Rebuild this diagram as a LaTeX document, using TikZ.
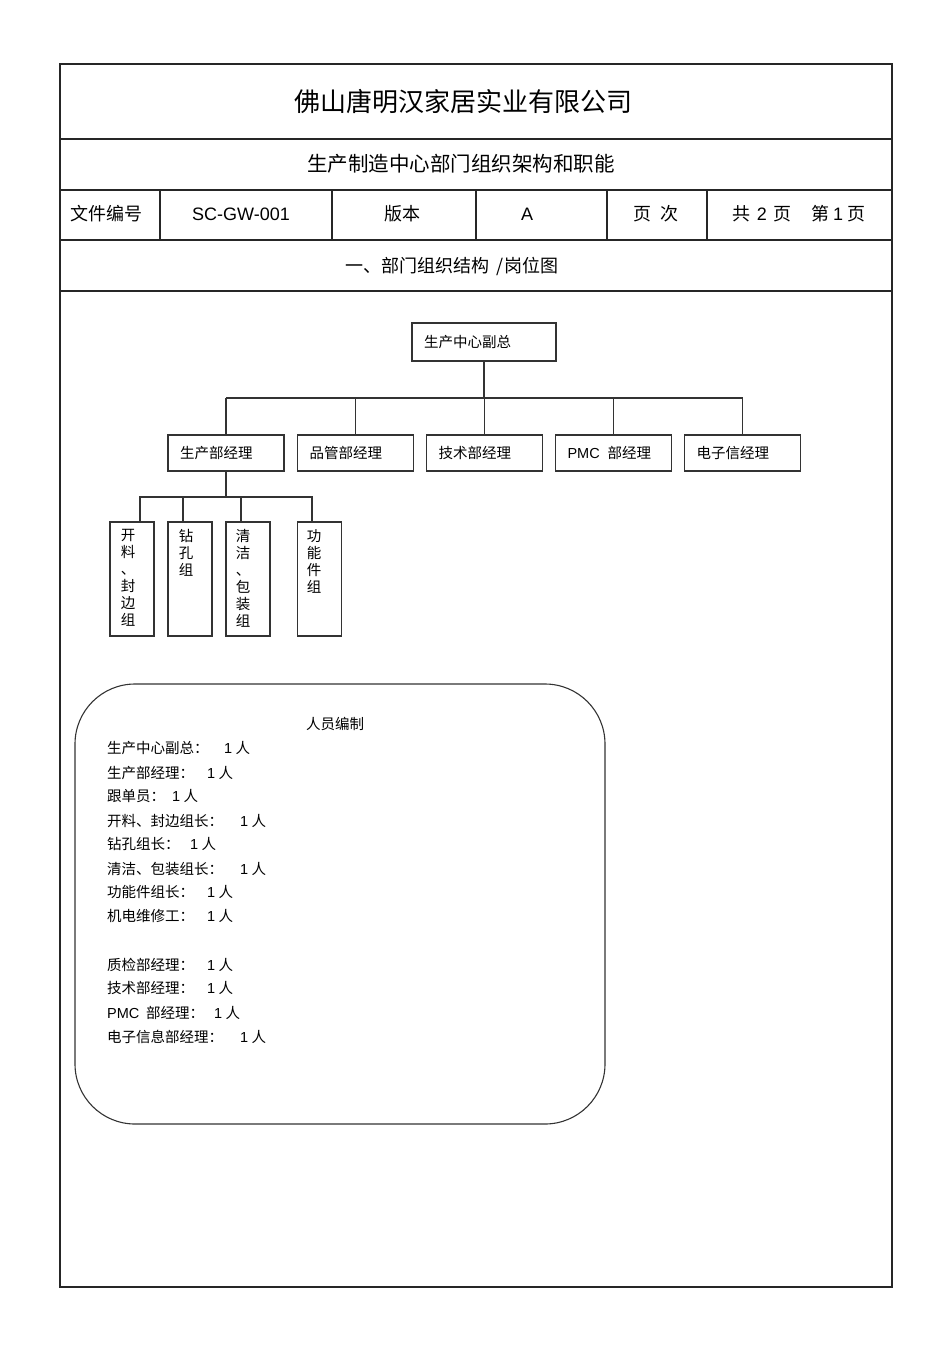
\documentclass[tikz,border=0pt]{standalone}
\usepackage{fontspec}
\setmainfont{Noto Sans CJK SC}
\newfontfamily\latf{Liberation Sans}
\newcommand\latn[1]{{\latf #1}}
\begin{document}
\begin{tikzpicture}[x=1pt,y=-1pt,
  rule/.style={draw=black!85, line width=1.1pt},
  link/.style={draw=black!80, line width=1.2pt},
  hdr/.style={inner sep=0pt, font=\fontsize{18}{21}\selectfont},
  topbox/.style={draw=black!80, line width=1.2pt, minimum height=38pt, text width=120pt, inner xsep=12pt, align=left, font=\fontsize{14.5}{17}\selectfont},
  dbox/.style={draw=black!80, line width=1.2pt, minimum height=36pt, text width=92pt, inner xsep=12pt, align=left, font=\fontsize{14.5}{17}\selectfont},
  gbox/.style={draw=black!80, line width=1.2pt, minimum width=44pt, minimum height=114pt},
  gtext/.style={anchor=north, align=center, inner sep=0pt, font=\fontsize{14.5}{17}\selectfont},
  staff/.style={draw=black!80, line width=1.1pt, rounded corners=60pt, minimum width=530pt, minimum height=440pt},
  item/.style={anchor=west, inner sep=0pt, font=\fontsize{14.5}{17}\selectfont}
]
\useasboundingbox (0,0) rectangle (950,1345);
% frame
\draw[rule] (60,64) rectangle (892,1287);
\foreach \yy in {139,190,240,291} \draw[rule] (60,\yy) -- (892,\yy);
\foreach \xx in {160,332,476,607,707} \draw[rule] (\xx,190) -- (\xx,240);
% header texts
\node[inner sep=0pt, font=\fontsize{26}{30}\selectfont] (title) at (463,102) {佛山唐明汉家居实业有限公司};
\node[inner sep=0pt, font=\fontsize{20.5}{24}\selectfont] (sub) at (461,164) {生产制造中心部门组织架构和职能};
\node[hdr] (c1) at (106,214) {文件编号};
\node[hdr] (c2) at (241,214) {\latn{SC-GW-001}};
\node[hdr] (c3) at (402,214) {版本};
\node[hdr] (c4) at (527,214) {\latn{A}};
\node[hdr] (c5) at (656,214) {页\hspace{10pt}次};
\node[hdr] (c6) at (799,214) {共\hspace{6pt}\latn{2}\hspace{6pt}页\hspace{20pt}第\hspace{4pt}\latn{1}\hspace{4pt}页};
\node[hdr] (sec) at (452,266) {一、部门组织结构\hspace{7pt}/岗位图};
% org chart
\node[topbox] (top) at (484,342) {生产中心副总};
\node[dbox] (d1) at (226,453) {生产部经理};
\node[dbox] (d2) at (355.5,453) {品管部经理};
\node[dbox] (d3) at (484.5,453) {技术部经理};
\node[dbox] (d4) at (613.5,453) {\latn{PMC}\hspace{8pt}部经理};
\node[dbox] (d5) at (742.5,453) {电子信经理};
\coordinate (bus) at (484,398);
\draw[link] (top.south) -- (top.south |- bus);
\draw[link] (d1.north |- bus) -- (d5.north |- bus);
\foreach \i in {1,...,5} \draw[link] (d\i.north) -- (d\i.north |- bus);
% groups
\node[gbox] (ga) at (132,579) {};
\node[gbox] (gb) at (190,579) {};
\node[gbox] (gc) at (248,579) {};
\node[gbox] (gd) at (319.5,579) {};
\node[gtext] (ta) at ([xshift=-4pt,yshift=-8pt]ga.north) {开\\料\\、\\封\\边\\组};
\node[gtext] (tb) at ([xshift=-4pt,yshift=-8pt]gb.north) {钻\\孔\\组};
\node[gtext] (tc) at ([xshift=-5pt,yshift=-8pt]gc.north) {清\\洁\\、\\包\\装\\组};
\node[gtext] (td) at ([xshift=-5.5pt,yshift=-8pt]gd.north) {功\\能\\件\\组};
\coordinate (gbus) at (226,497);
\draw[link] (d1.south) -- (gbus);
\draw[link] ([xshift=8pt]ga.north) -- ([xshift=8pt]ga.north |- gbus) -- ([xshift=-7.5pt]gd.north |- gbus) -- ([xshift=-7.5pt]gd.north);
\draw[link] ([xshift=-7pt]gb.north) -- ([xshift=-7pt]gb.north |- gbus);
\draw[link] ([xshift=-7pt]gc.north) -- ([xshift=-7pt]gc.north |- gbus);
% staffing box
\node[staff] (st) at (340,904) {};
\node[inner sep=0pt, font=\fontsize{14.5}{17}\selectfont] (sth) at (335,724) {人员编制};
\node[item] (i1) at (107,748) {\makebox[117pt][l]{生产中心副总：}\latn{1} 人};
\node[item] (i2) at (107,773) {\makebox[100pt][l]{生产部经理：}\latn{1} 人};
\node[item] (i3) at (107,796) {\makebox[65pt][l]{跟单员：}\latn{1} 人};
\node[item] (i4) at (107,821) {\makebox[133pt][l]{开料、封边组长：}\latn{1} 人};
\node[item] (i5) at (107,844) {\makebox[83pt][l]{钻孔组长：}\latn{1} 人};
\node[item] (i6) at (107,869) {\makebox[133pt][l]{清洁、包装组长：}\latn{1} 人};
\node[item] (i7) at (107,892) {\makebox[100pt][l]{功能件组长：}\latn{1} 人};
\node[item] (i8) at (107,916) {\makebox[100pt][l]{机电维修工：}\latn{1} 人};
\node[item] (i9) at (107,965) {\makebox[100pt][l]{质检部经理：}\latn{1} 人};
\node[item] (i10) at (107,988) {\makebox[100pt][l]{技术部经理：}\latn{1} 人};
\node[item] (i11) at (107,1013) {\makebox[107pt][l]{\makebox[39pt][l]{\latn{PMC}}部经理：}\latn{1} 人};
\node[item] (i12) at (107,1037) {\makebox[133pt][l]{电子信息部经理：}\latn{1} 人};
\end{tikzpicture}
\end{document}
